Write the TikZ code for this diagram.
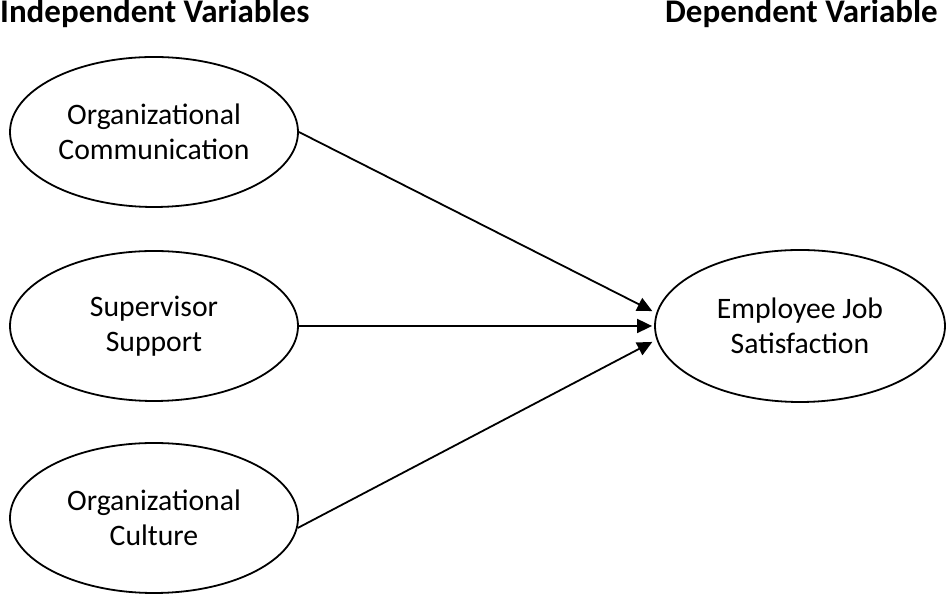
\documentclass[tikz,border=0pt]{standalone}
\usepackage{fontspec}
\setmainfont{Carlito}
\usetikzlibrary{shapes.geometric,arrows.meta}
\begin{document}
\begin{tikzpicture}[x=1pt,y=1pt,
  var/.style={ellipse,draw=black,line width=1.8pt,minimum width=288pt,minimum height=150pt,inner sep=0pt,align=center,font=\fontsize{29.7}{35}\selectfont},
  head/.style={font=\fontsize{33}{36}\selectfont\bfseries,inner sep=0pt},
  conn/.style={line width=1.8pt,-{Triangle[length=15pt,width=14pt]},shorten >=2pt}]
\useasboundingbox (0,0) rectangle (946,596);
\node[head,anchor=base west] (ht1) at (0,573) {Independent Variables};
\node[head,anchor=base east] (ht2) at (938,573) {Dependent Variable};
\node[var] (iv1) at (154,464) {Organizational\\Communication};
\node[var] (iv2) at (154,270) {Supervisor\\Support};
\node[var] (iv3) at (154,78) {Organizational\\Culture};
\node[var,minimum width=290pt,minimum height=152pt] (dv) at (800,270) {Employee Job\\Satisfaction};
\draw[conn] (iv1.east) -- ([yshift=14pt]dv.west);
\draw[conn] (iv2.east) -- (dv.west);
\draw[conn] (iv3.-4) -- ([yshift=-15pt]dv.west);
\end{tikzpicture}
\end{document}
